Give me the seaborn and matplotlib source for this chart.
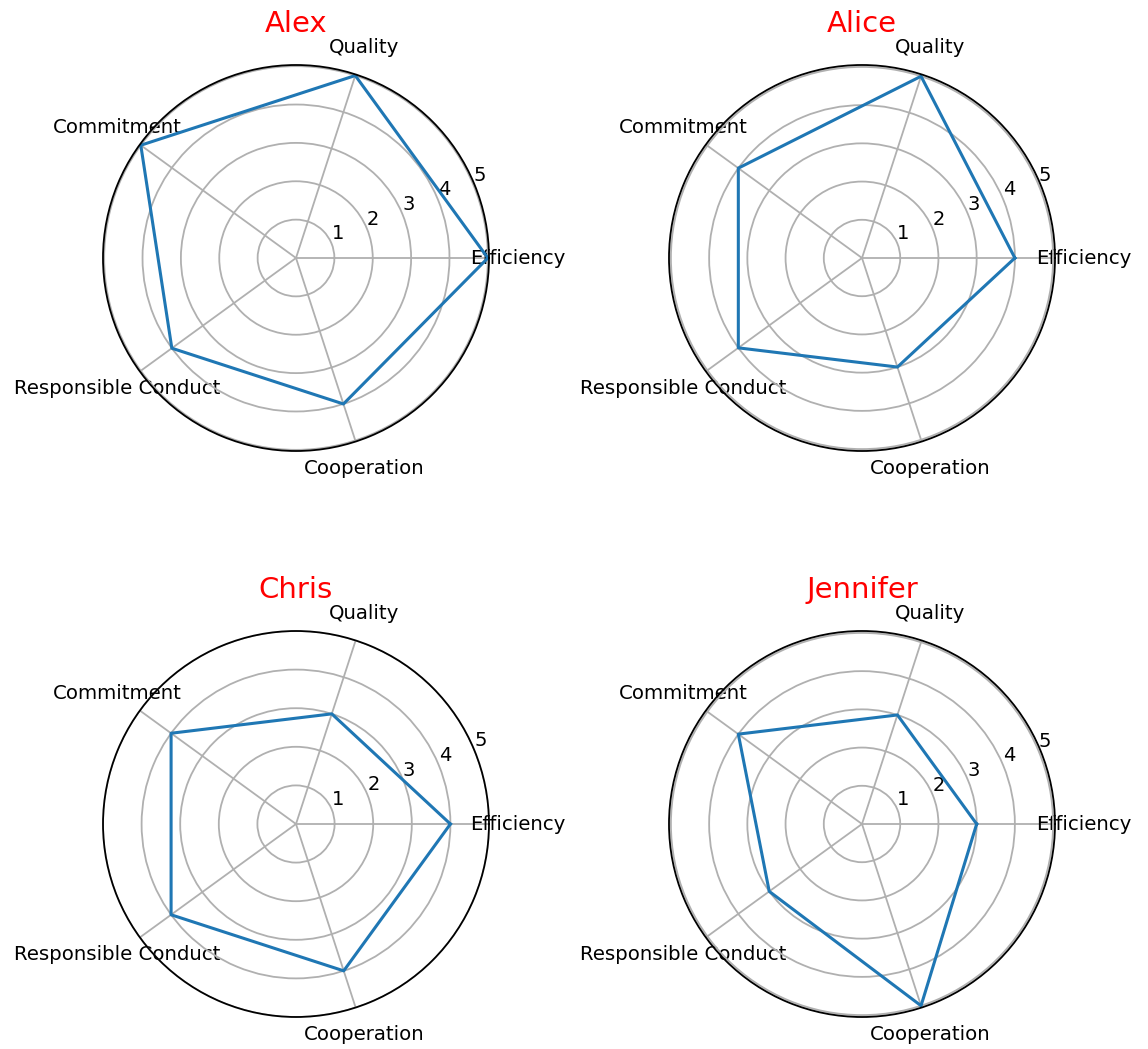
import numpy as np
import pandas as pd
import matplotlib
matplotlib.use("Agg")
import matplotlib.pyplot as plt
import seaborn as sns

# Performance ratings on five criteria (scale 1-5)
categories = ["Efficiency", "Quality", "Commitment", "Responsible Conduct", "Cooperation"]
names = ["Alex", "Alice", "Chris", "Jennifer"]
alex = [5, 5, 5, 4, 4]
alice = [4, 5, 4, 4, 3]
chris = [4, 3, 4, 4, 4]
jennifer = [3, 3, 4, 3, 5]
scores = [alex, alice, chris, jennifer]
radial_ticks = [1, 2, 3, 4, 5]

n = len(categories)
angles = np.linspace(0, 2 * np.pi, n, endpoint=False)

fig = plt.figure(figsize=(11.48, 10.49), dpi=100)

w, h = 386 / 1148, 386 / 1049
rects = [
    [103 / 1148, 1 - 451 / 1049, w, h],
    [669 / 1148, 1 - 451 / 1049, w, h],
    [103 / 1148, 1 - 1017 / 1049, w, h],
    [669 / 1148, 1 - 1017 / 1049, w, h],
]
rmax = [5.03, 5.05, 5.0, 5.05]

for name, vals, rect, top in zip(names, scores, rects, rmax):
    ax = fig.add_axes(rect, projection="polar")
    closed_angles = np.append(angles, 2 * np.pi)
    closed_vals = list(vals) + [vals[0]]
    df = pd.DataFrame({"angle": closed_angles, "score": closed_vals})
    sns.lineplot(data=df, x="angle", y="score", sort=False, ax=ax,
                 color="#1f77b4", linewidth=2.2)
    ax.set_xlabel("")
    ax.set_ylabel("")
    ax.set_thetagrids(np.degrees(angles), categories, fontsize=14.2)
    ax.set_rgrids(radial_ticks, [str(t) for t in radial_ticks], fontsize=14)
    ax.tick_params(axis="x", pad=10)
    ax.set_ylim(0, top)
    ax.grid(True, color="#b0b0b0", linewidth=1.3)
    ax.spines["polar"].set_linewidth(1.3)
    ax.set_title(name, color="red", fontsize=21, y=1.0, pad=24)

fig.savefig("out.png", dpi=100)
